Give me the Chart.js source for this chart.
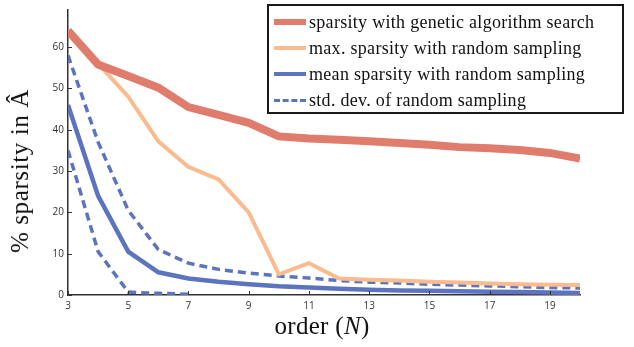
<!DOCTYPE html>
<html>
<head>
<meta charset="utf-8">
<script src="https://cdn.jsdelivr.net/npm/chart.js@4.4.0/dist/chart.umd.min.js"></script>
<style>
  body { margin: 0; background: #fff; }
  #wrap { position: relative; width: 634px; height: 347px; }
  #legend { position: absolute; left: 267px; top: 4px; width: 353px; height: 106px;
    border: 2px solid #1a1a1a; font-family: "Liberation Serif", serif; font-size: 18px; color: #111;
    letter-spacing: 0.3px; }
  .row { position: absolute; left: 5px; height: 26px; display: flex; align-items: center; white-space: nowrap; }
  .sample { width: 32px; margin-right: 3px; }
  #ytitle { position: absolute; left: 20px; top: 171px; transform: translate(-50%, -50%) rotate(-90deg);
    font-family: "Liberation Serif", serif; font-size: 25px; color: #111; white-space: nowrap; letter-spacing: 0.6px; }
  #xtitle { position: absolute; left: 322px; top: 326px; transform: translate(-50%, -50%);
    font-family: "Liberation Serif", serif; font-size: 25px; color: #111; white-space: nowrap; letter-spacing: 0.3px; }
</style>
</head>
<body>
<div id="wrap">
  <canvas id="myChart" width="634" height="347"></canvas>
  <div id="legend"></div>
  <div id="ytitle">% sparsity in Â</div>
  <div id="xtitle">order (<i>N</i>)</div>
</div>
<script>
const orders = [3, 4, 5, 6, 7, 8, 9, 10, 11, 12, 13, 14, 15, 16, 17, 18, 19, 20];
const geneticSparsity = [64, 55.8, 53, 50.2, 45.5, 43.6, 41.7, 38.4, 37.9, 37.6, 37.2, 36.8, 36.4, 35.8, 35.5, 35.1, 34.4, 33];
const maxRandom = [64, 56, 48, 37.2, 31, 28, 20, 5, 7.7, 4, 3.7, 3.5, 3.2, 3, 2.8, 2.6, 2.5, 2.4];
const meanRandom = [46, 24, 10.5, 5.5, 4, 3.2, 2.6, 2.1, 1.8, 1.5, 1.3, 1.1, 1.0, 0.9, 0.8, 0.7, 0.6, 0.5];
const stdUpper = [58, 37, 20.5, 11, 7.7, 6.2, 5.3, 4.6, 4.1, 3.5, 3.1, 2.9, 2.6, 2.4, 2.2, 2.0, 1.8, 1.7];
const stdLower = [35, 10.5, 0.7, 0.4, 0.2, null, null, null, null, null, null, null, null, null, null, null, null, null];
const xTicks = [3, 5, 7, 9, 11, 13, 15, 17, 19];
const yTicks = [0, 10, 20, 30, 40, 50, 60];
const seriesNames = [
  'sparsity with genetic algorithm search',
  'max. sparsity with random sampling',
  'mean sparsity with random sampling',
  'std. dev. of random sampling'
];

const red = 'rgb(224, 124, 108)';
const orange = 'rgb(250, 187, 143)';
const blue = 'rgb(92, 116, 190)';

const pts = vals => vals.map((v, i) => ({ x: orders[i], y: v }));

const datasets = [
  { label: seriesNames[0], data: pts(geneticSparsity), borderColor: red, borderWidth: 8 },
  { label: seriesNames[1], data: pts(maxRandom), borderColor: orange, borderWidth: 4 },
  { label: seriesNames[2], data: pts(meanRandom), borderColor: blue, borderWidth: 4.5 },
  { label: seriesNames[3], data: pts(stdUpper), borderColor: blue, borderWidth: 3.5, borderDash: [8, 5] },
  { label: seriesNames[3], data: pts(stdLower), borderColor: blue, borderWidth: 3.5, borderDash: [8, 5] }
].map(d => Object.assign({ pointRadius: 0, fill: false, tension: 0 }, d));

// inside ticks, drawn from the scales
const innerTicks = {
  id: 'innerTicks',
  afterDraw(chart) {
    const ctx = chart.ctx;
    const xs = chart.scales.x, ys = chart.scales.y;
    ctx.save();
    ctx.strokeStyle = '#333';
    ctx.lineWidth = 1;
    ctx.beginPath();
    xTicks.forEach(v => {
      const px = Math.round(xs.getPixelForValue(v)) + 0.5;
      ctx.moveTo(px, ys.bottom);
      ctx.lineTo(px, ys.bottom - 4);
    });
    yTicks.forEach(v => {
      const py = Math.round(ys.getPixelForValue(v)) + 0.5;
      ctx.moveTo(xs.left, py);
      ctx.lineTo(xs.left + 4, py);
    });
    ctx.stroke();
    ctx.restore();
  }
};

const ctx = document.getElementById('myChart').getContext('2d');
window.myChartInstance = new Chart(ctx, {
  type: 'line',
  data: { datasets: datasets },
  options: {
    responsive: false,
    animation: false,
    layout: { padding: { left: 28, right: 54, top: 3, bottom: 31 } },
    plugins: { legend: { display: false }, tooltip: { enabled: false } },
    scales: {
      x: {
        type: 'linear', min: 3, max: 20,
        afterBuildTicks: s => { s.ticks = xTicks.map(v => ({ value: v })); },
        afterFit: s => { s.height = 21; },
        grid: { display: true, drawOnChartArea: false, drawTicks: false },
        border: { color: '#333', width: 1.5 },
        ticks: { padding: 5, color: '#333', font: { family: 'Open Sans', size: 10 }, maxRotation: 0, autoSkip: false }
      },
      y: {
        min: 0, max: 69,
        afterBuildTicks: s => { s.ticks = yTicks.map(v => ({ value: v })); },
        afterFit: s => { s.width = 40; },
        grid: { display: true, drawOnChartArea: false, drawTicks: false },
        border: { color: '#333', width: 1.5 },
        ticks: { padding: 4, color: '#333', font: { family: 'Open Sans', size: 10 } }
      }
    }
  },
  plugins: [innerTicks]
});

// legend built from the datasets (second std. dev. line shares the entry)
const legend = document.getElementById('legend');
datasets.slice(0, 4).forEach((d, i) => {
  const row = document.createElement('div');
  row.className = 'row';
  row.style.top = (3 + i * 26) + 'px';
  const s = document.createElement('div');
  s.className = 'sample';
  const w = i === 0 ? 6 : (i === 3 ? 3 : 4);
  s.style.borderTop = w + 'px ' + (d.borderDash ? 'dashed ' : 'solid ') + d.borderColor;
  const t = document.createElement('span');
  t.textContent = d.label;
  row.appendChild(s);
  row.appendChild(t);
  legend.appendChild(row);
});
</script>
</body>
</html>
